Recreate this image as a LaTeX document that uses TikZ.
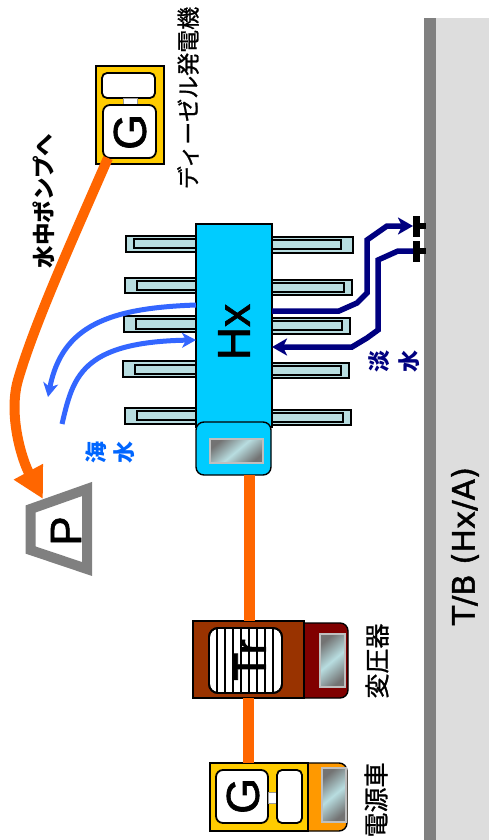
\documentclass[tikz,border=0pt]{standalone}
\usepackage{fontspec}
\setmainfont{Liberation Sans}
\newfontfamily\jp[FakeBold=1.0]{Noto Sans CJK JP}
\newfontfamily\jpb{Noto Sans CJK JP}
\newfontfamily\lat[FakeBold=1.4]{Liberation Sans}
\newfontfamily\djv[FakeBold=1.5]{DejaVu Sans}
\usetikzlibrary{arrows.meta}
\definecolor{wallgray}{HTML}{808080}
\definecolor{walllight}{HTML}{DDDDDD}
\definecolor{hxblue}{HTML}{00CCFF}
\definecolor{finfill}{HTML}{B8DDE0}
\definecolor{sea}{HTML}{3366FF}
\definecolor{seatext}{HTML}{0066FF}
\definecolor{navyw}{HTML}{000080}
\definecolor{power}{HTML}{FF6600}
\definecolor{genyel}{HTML}{FFCC00}
\definecolor{genora}{HTML}{FF9900}
\definecolor{trbrown}{HTML}{993300}
\definecolor{trred}{HTML}{800000}
\newcommand{\bx}[6]{%
  \pgfmathsetmacro{\bxw}{#4-#2}\pgfmathsetmacro{\bxh}{#5-#3}%
  \pgfmathsetmacro{\bxx}{(#4+#2)/2}\pgfmathsetmacro{\bxy}{(#5+#3)/2}%
  \node[blk,minimum width=\bxw pt,minimum height=\bxh pt,#6] (#1) at (\bxx,\bxy) {};}
\tikzset{
  blk/.style={inner sep=0pt,outer sep=0pt,draw=black,line width=1.4pt},
  panel/.style={fill=white,line width=1.8pt},
  outerfin/.style={fill=finfill},
  innerfin/.style={fill=finfill,line width=1.2pt},
  windowpane/.style={draw=black!25,line width=1.6pt,top color=black!55,bottom color=black!55,middle color=finfill,shading angle=40},
  powerline/.style={draw=power,line width=10.5pt},
  seaflow/.style={draw=sea,line width=5pt,-{Stealth[length=14pt,width=15pt,inset=4pt]}},
  freshflow/.style={draw=navyw,line width=5.5pt,line join=miter,-{Stealth[length=15pt,width=17pt,inset=4pt]}},
  latin/.style={inner sep=0pt,rotate=90,font=\lat\fontsize{46}{46}\selectfont},
  jplabel/.style={inner sep=0pt,rotate=90,font=\jp\fontsize{23}{23}\selectfont},
  jpbold/.style={inner sep=0pt,rotate=90,font=\jpb\bfseries\fontsize{22}{22}\selectfont},
}
\begin{document}
\begin{tikzpicture}[x=1pt,y=-1pt]
\useasboundingbox (0,0) rectangle (489,840);
\fill[white] (0,0) rectangle (489,840);
% wall
\fill[walllight] (436,18) rectangle (489,840);
\fill[wallgray] (424,18) rectangle (436,840);
\node[inner sep=0pt,rotate=90,font=\djv\fontsize{31}{31}\selectfont] (tb) at (465,546) {T/B (Hx/A)};
% fins
\bx{fl1}{126}{236}{200}{252}{outerfin}
\bx{fli1}{134}{239}{200}{248}{innerfin}
\bx{fr1}{268}{237}{353}{253}{outerfin}
\bx{fri1}{268}{240}{341}{249}{innerfin}
\bx{fl2}{125}{278}{200}{293}{outerfin}
\bx{fli2}{137}{281}{200}{290}{innerfin}
\bx{fr2}{268}{280}{352}{295}{outerfin}
\bx{fri2}{268}{283}{344}{292}{innerfin}
\bx{fl3}{124}{316}{200}{332}{outerfin}
\bx{fli3}{136}{319}{200}{329}{innerfin}
\bx{fr3}{268}{318}{350}{334}{outerfin}
\bx{fri3}{268}{321}{342}{330}{innerfin}
\bx{fl4}{123}{361}{200}{377}{outerfin}
\bx{fli4}{135}{365}{200}{374}{innerfin}
\bx{fr4}{268}{363}{349}{378}{outerfin}
\bx{fri4}{268}{366}{341}{375}{innerfin}
\bx{fl5}{125}{408}{200}{424}{outerfin}
\bx{fli5}{137}{411}{200}{420}{innerfin}
\bx{fr5}{268}{410}{351}{425}{outerfin}
\bx{fri5}{268}{413}{343}{422}{innerfin}
% heat exchanger
\bx{hx}{196}{224}{272}{427}{fill=hxblue}
\bx{hxcap}{196}{422}{271}{475}{fill=hxblue,rounded corners=8pt}
\bx{hxwin}{210}{439}{263}{463}{windowpane}
\node[latin] (hxt) at (234,332) {Hx};
% transformer
\bx{trcap}{296}{623}{348}{698}{fill=trred,rounded corners=8pt}
\bx{tr}{193}{621}{304}{698}{fill=trbrown}
\bx{trin}{209}{628}{282}{693}{panel,rounded corners=9pt}
\foreach \lx in {217,225,233,241,249,257,265,273}
  \draw[line width=1.2pt] (\lx,628.5) -- (\lx,692.5);
\draw[line width=1.8pt,rounded corners=9pt] (209,628) rectangle (282,693);
\node[latin] (trt) at (250,660) {Tr};
\bx{trwin}{320}{634}{345}{687}{windowpane}
% power vehicle
\bx{gcarcap}{298}{763}{347}{831}{fill=genora,rounded corners=8pt}
\bx{gcar}{210}{763}{308}{831}{fill=genyel}
\bx{gcarg}{216}{770}{268}{823}{panel,rounded corners=7pt}
\bx{gcarlink}{268}{792}{277}{803}{fill=white,draw=black!40,line width=.8pt}
\bx{gcarr}{277}{770}{302}{823}{panel,rounded corners=5pt}
\bx{gcarwin}{322}{768}{346}{822}{windowpane}
\node[latin] (gcart) at (243,796) {G};
% diesel generator
\bx{dg}{96}{66}{164}{164}{fill=genyel}
\bx{dgr}{102}{73}{155}{98}{panel,rounded corners=5pt}
\bx{dglink}{123}{98}{137}{107}{fill=white,draw=black!40,line width=.8pt}
\bx{dgg}{103}{105}{156}{158}{panel,rounded corners=7pt}
\node[latin] (dgt) at (130,132) {G};
\draw[powerline] (hxcap.south -| 249.5,0) -- (tr.north -| 249.5,0);
\draw[powerline] (tr.south -| 248.5,0) -- (gcar.north -| 248.5,0);
% pump
\coordinate (p1) at (30.5,509);
\coordinate (p2) at (87,489);
\coordinate (p3) at (87,569);
\coordinate (p4) at (30.5,550);
\draw[draw=wallgray,line width=10pt,line join=miter] (p1) -- (p2) -- (p3) -- (p4) -- cycle;
\node[latin,font=\lat\fontsize{44}{44}\selectfont] (pt) at (66,531) {P};
% feed to the pump
\coordinate (dgout) at (108,158);
\coordinate (pumpin) at (43,499);
\draw[draw=power,line width=10pt,-{Triangle[length=31pt,width=31pt]}] (dgout)
  .. controls (70,245) and (34,325) .. (18,380)
  .. controls (8,415) and (22,460) .. (pumpin);
% sea water
\coordinate (s1a) at (48,397);
\coordinate (s2b) at (62,424);
\draw[seaflow] (hx.west |- 0,305) .. controls (110,308) and (62,325) .. (s1a);
\draw[seaflow] (s2b) .. controls (73,378) and (80,342) .. (hx.west |- 0,340);
% valves
\bx{v1}{413}{216}{419}{236}{fill=black,line width=0pt}
\bx{v1s}{419}{223}{425}{228}{fill=black,line width=0pt}
\bx{v2}{413}{241}{419}{261}{fill=black,line width=0pt}
\bx{v2s}{419}{248}{425}{253}{fill=black,line width=0pt}
% fresh water
\draw[freshflow] (hx.east |- 0,311) -- (339,311) -- (357,303) -- (367,293) -- (367,240) -- (387,226) -- (v1.west |- 0,226);
\draw[freshflow] (v2.west |- 0,251) -- (398,251) -- (378,260) -- (378,330) -- (367,338) -- (352,347) -- (hx.east |- 0,347);
% labels
\node[jplabel] (ldg) at (188,98) {ディーゼル発電機};
\node[inner sep=0pt,rotate=90,font=\jpb\bfseries\fontsize{22.5}{22.5}\selectfont] (lpump) at (44,201) {水中ポンプへ};
\node[jplabel,font=\jp\fontsize{25}{25}\selectfont] (ltr) at (377,661) {変圧器};
\node[jplabel,font=\jp\fontsize{25}{25}\selectfont] (lcar) at (376,800) {電源車};
\node[jpbold,text=seatext] (lsea1) at (96,452) {海};
\node[jpbold,text=seatext] (lsea2) at (124,452) {水};
\node[jpbold,text=navyw] (lf1) at (379,361) {淡};
\node[jpbold,text=navyw] (lf2) at (409,361) {水};
\end{tikzpicture}
\end{document}
